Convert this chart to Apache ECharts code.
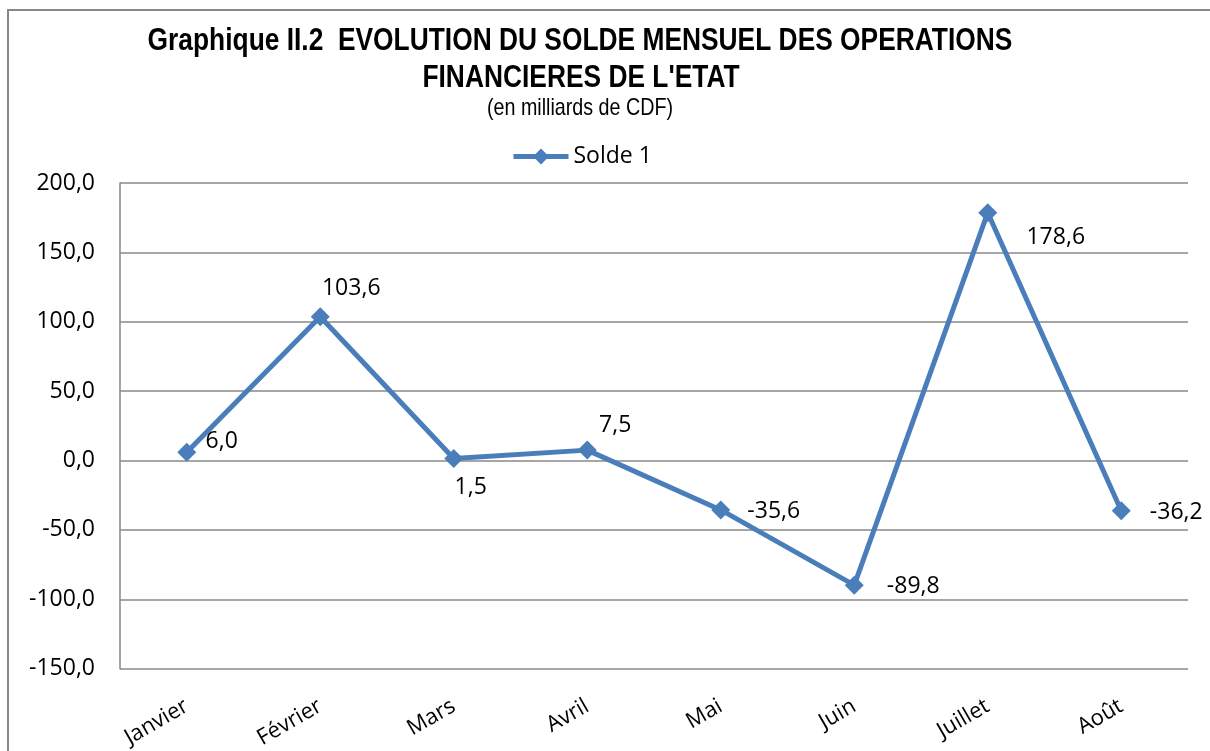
<!DOCTYPE html>
<html>
<head>
<meta charset="utf-8">
<script src="https://cdn.jsdelivr.net/npm/echarts@6/dist/echarts.min.js"></script>
<style>
html,body{margin:0;padding:0;background:#fff;}
#chart{width:1210px;height:751px;}
</style>
</head>
<body>
<div id="chart"></div>
<script>
const categories = ['Janvier', 'Février', 'Mars', 'Avril', 'Mai', 'Juin', 'Juillet', 'Août'];
const solde1 = [6.0, 103.6, 1.5, 7.5, -35.6, -89.8, 178.6, -36.2];
const yTicks = [-150, -100, -50, 0, 50, 100, 150, 200];
const seriesName = 'Solde 1';
const titleLine1 = 'Graphique II.2  EVOLUTION DU SOLDE MENSUEL DES OPERATIONS';
const titleLine2 = "FINANCIERES DE L'ETAT";
const subtitle = '(en milliards de CDF)';

// label placement (layout only): offsets from each point's centre
const labelOffsets = [[35, -11], [31, -28], [17, 29], [28, -25], [53, 2], [59, 1], [68, 25], [55, 2]];

const fmt = v => v.toFixed(1).replace('.', ',');
const bodyFont = "'Open Sans', 'Noto Sans', sans-serif";
const arialFont = "'Liberation Sans', Arial, sans-serif";

const chart = echarts.init(document.getElementById('chart'), null, {renderer: 'canvas'});
chart.setOption({
  backgroundColor: '#fff',
  animation: false,
  graphic: [{
    type: 'rect',
    shape: {x: 8, y: 10, width: 1300, height: 900},
    style: {fill: 'none', stroke: '#888', lineWidth: 2},
    silent: true, z: -1
  }, {
    type: 'text', x: 580, y: 41, scaleX: 0.85,
    style: {text: titleLine1, x: 0, y: 0, textAlign: 'center', textVerticalAlign: 'middle',
            font: 'bold 31px ' + arialFont, fill: '#000'}
  }, {
    type: 'text', x: 581, y: 78, scaleX: 0.85,
    style: {text: titleLine2, x: 0, y: 0, textAlign: 'center', textVerticalAlign: 'middle',
            font: 'bold 31px ' + arialFont, fill: '#000'}
  }, {
    type: 'text', x: 580, y: 108, scaleX: 0.82,
    style: {text: subtitle, x: 0, y: 0, textAlign: 'center', textVerticalAlign: 'middle',
            font: '24px ' + arialFont, fill: '#000'}
  }],
  legend: {
    data: [seriesName],
    left: 506, top: 140,
    itemWidth: 55, itemHeight: 20, itemGap: 5,
    lineStyle: {width: 5},
    textStyle: {fontFamily: bodyFont, fontSize: 23, color: '#000'}
  },
  grid: {left: 120, right: 22, top: 183, bottom: 82, containLabel: false},
  xAxis: {
    type: 'category',
    data: categories,
    boundaryGap: true,
    axisLine: {show: false},
    axisTick: {show: false},
    axisLabel: {rotate: 30, margin: 36, fontFamily: bodyFont, fontSize: 22, color: '#000'}
  },
  yAxis: {
    type: 'value',
    min: yTicks[0], max: yTicks[yTicks.length - 1], interval: 50,
    axisLine: {show: true, lineStyle: {color: '#888', width: 1.5}},
    axisTick: {show: false},
    splitLine: {show: true, lineStyle: {color: '#888', width: 1.5}},
    axisLabel: {margin: 25, fontFamily: bodyFont, fontSize: 23, color: '#000', formatter: fmt}
  },
  series: [{
    name: seriesName,
    type: 'line',
    data: solde1.map((v, i) => ({
      value: v,
      label: {offset: labelOffsets[i]}
    })),
    symbol: 'diamond',
    symbolSize: 19,
    itemStyle: {color: '#4a7ebb'},
    lineStyle: {color: '#4a7ebb', width: 5},
    label: {
      show: true, position: 'inside', align: 'center', verticalAlign: 'middle',
      fontFamily: bodyFont, fontSize: 23, color: '#000',
      formatter: p => fmt(p.value)
    }
  }]
});
</script>
</body>
</html>
